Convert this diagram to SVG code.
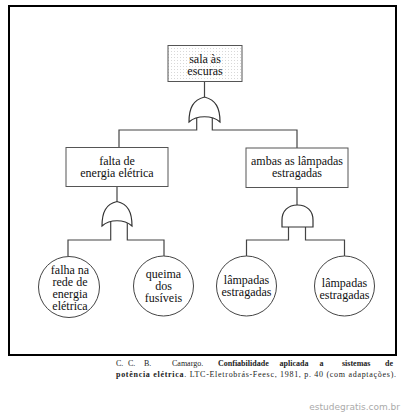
<svg xmlns="http://www.w3.org/2000/svg" width="403" height="416" viewBox="0 0 403 416">
<defs>
<pattern id="dots" width="3" height="3" patternUnits="userSpaceOnUse">
<rect width="3" height="3" fill="#ffffff"/>
<rect width="1" height="1" fill="#d8d8d8"/>
</pattern>
</defs>
<style>
.box{fill:#fff;stroke:#555;stroke-width:1}
.ev{fill:#fff;stroke:#444;stroke-width:1}
.gate{fill:#fff;stroke:#333;stroke-width:1.2}
.ln{fill:none;stroke:#444;stroke-width:1.2}
.t{font-family:"Liberation Serif","Times New Roman",serif;font-size:12px;fill:#111;text-anchor:middle}
.cap{font-family:"Liberation Serif","Times New Roman",serif;font-size:8px;fill:#222}
.b{font-weight:bold}
</style>
<rect id="frame" x="9" y="6" width="387" height="349" fill="none" stroke="#000" stroke-width="2"/>
<g id="connectors">
<path class="ln" d="M204.5,82 V97"/>
<path class="ln" d="M196.7,118 V130 H119 V147"/>
<path class="ln" d="M212.3,118 V130 H297 V148"/>
<path class="ln" d="M117,187 V201.5"/>
<path class="ln" d="M110.7,222 V240 H68 V256"/>
<path class="ln" d="M127.3,222 V240 H164 V256"/>
<path class="ln" d="M297,188 V205"/>
<path class="ln" d="M288.5,227 V240 H246.5 V256"/>
<path class="ln" d="M305.5,227 V240 H344.5 V256"/>
</g>
<g id="top">
<rect x="168" y="45.5" width="74" height="36" fill="url(#dots)" stroke="#555" stroke-width="1"/>
<text class="t" x="205" y="63">sala às</text>
<text class="t" x="205" y="75">escuras</text>
</g>
<g id="gate_or_top">
<path class="gate" d="M189,122 C189,108 193,100 204.5,97 C216,100 220,108 220,122 C212,115 197,115 189,122 Z"/>
</g>
<g id="falta">
<rect class="box" x="66" y="147.5" width="102" height="39"/>
<text class="t" x="117" y="165">falta de</text>
<text class="t" x="117" y="177">energia elétrica</text>
</g>
<g id="ambas">
<rect class="box" x="246" y="148" width="102" height="39.5"/>
<text class="t" x="297" y="165">ambas as lâmpadas</text>
<text class="t" x="297" y="177">estragadas</text>
</g>
<g id="gate_or_left">
<path class="gate" d="M102,226 C102,212 106,204 117,201.5 C128,204 132,212 132,226 C124,219 110,219 102,226 Z"/>
</g>
<g id="gate_and_right">
<path class="gate" d="M282,227 V220 C282,211 288,205 297.5,205 C307,205 313,211 313,220 V227 Z"/>
</g>
<g id="falha">
<circle class="ev" cx="69" cy="287" r="30.5"/>
<text class="t" x="70" y="274">falha na</text>
<text class="t" x="70" y="286">rede de</text>
<text class="t" x="70" y="298">energia</text>
<text class="t" x="70" y="310">elétrica</text>
</g>
<g id="queima">
<circle class="ev" cx="163.5" cy="286" r="30"/>
<text class="t" x="163.5" y="278">queima</text>
<text class="t" x="163.5" y="290">dos</text>
<text class="t" x="163.5" y="302">fusíveis</text>
</g>
<g id="lamp1">
<circle class="ev" cx="246.5" cy="286" r="30"/>
<text class="t" x="246.5" y="284">lâmpadas</text>
<text class="t" x="246.5" y="296">estragadas</text>
</g>
<g id="lamp2">
<circle class="ev" cx="344.5" cy="286" r="30"/>
<text class="t" x="344.5" y="287">lâmpadas</text>
<text class="t" x="344.5" y="299">estragadas</text>
</g>
<g id="caption">
<text class="cap" y="366"><tspan x="116">C.</tspan><tspan x="128">C.</tspan><tspan x="144">B.</tspan><tspan x="172">Camargo.</tspan><tspan class="b" x="218">Confiabilidade</tspan><tspan class="b" x="279.5">aplicada</tspan><tspan class="b" x="319.5">a</tspan><tspan class="b" x="342">sistemas</tspan><tspan class="b" x="385">de</tspan></text>
<text class="cap" x="116" y="377" textLength="280" lengthAdjust="spacing"><tspan class="b">potência elétrica</tspan>. LTC-Eletrobrás-Feesc, 1981, p. 40 (com adaptações).</text>
</g>
<text x="400" y="410" text-anchor="end" font-family="DejaVu Sans,sans-serif" font-size="9" fill="#aaaaaa">estudegratis.com.br</text>
</svg>
